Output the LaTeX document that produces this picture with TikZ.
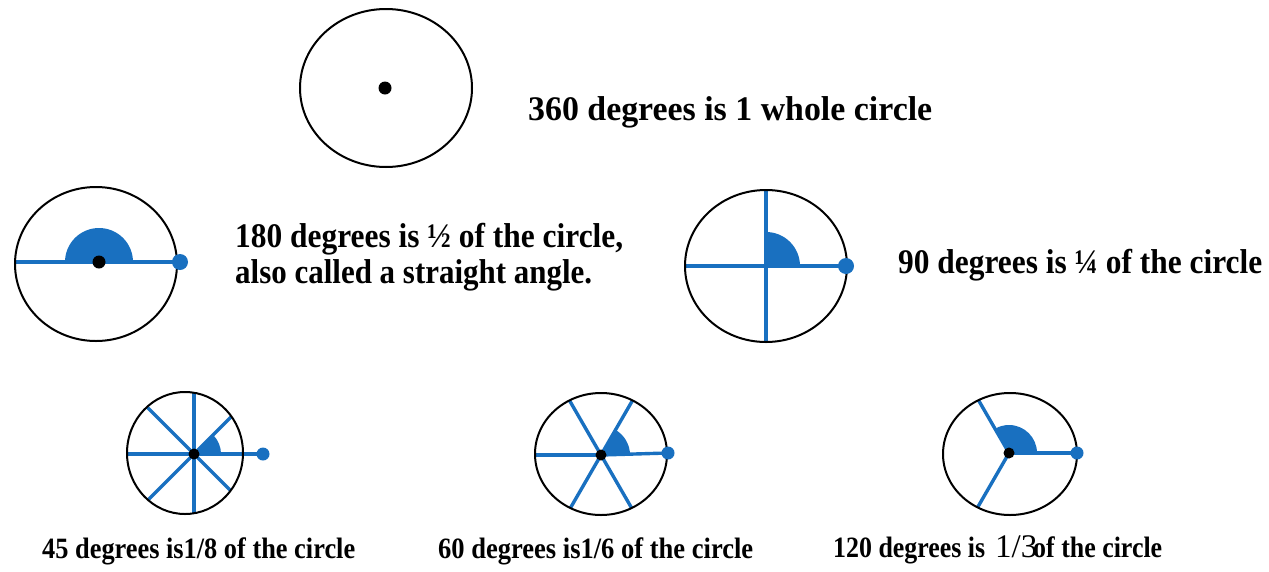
\documentclass[tikz,border=0pt]{standalone}
\usepackage{fontspec}
\usepackage{graphicx}
\setmainfont{Liberation Serif}
\newcommand{\fitto}[2]{\resizebox{#1}{\height}{#2}}
\definecolor{ablue}{RGB}{25,112,192}
\tikzset{
  rim/.style={draw=black, line width=2pt},
  spoke/.style={draw=ablue, line width=3.4pt},
  wedge/.style={fill=ablue},
  hubdot/.style={fill=black},
  enddot/.style={fill=ablue},
  lab/.style={anchor=base west, inner sep=0pt, font=\bfseries\fontsize{34.5}{40}\selectfont},
  slab/.style={anchor=base west, inner sep=0pt, font=\bfseries\fontsize{29.5}{34}\selectfont},
}
\begin{document}
\begin{tikzpicture}[x=1pt,y=1pt]
\useasboundingbox (0,0) rectangle (1269,-571);
% 360
\draw[rim] (386,-88) ellipse [x radius=86, y radius=79];
\fill[hubdot] (385,-88) circle (6.5);
\node[lab] (t360) at (528,-120) {\fitto{404pt}{360 degrees is 1 whole circle}};
% 180
\coordinate (h180) at (99,-262);
\fill[wedge] (h180) -- ++(0:34) arc[start angle=0,end angle=180,radius=34] -- cycle;
\draw[spoke] (15,-262) -- (180,-262);
\draw[rim] (96,-264) ellipse [x radius=81, y radius=77];
\fill[hubdot] (h180) circle (6.5);
\fill[enddot] (180,-262) circle (8);
\node[lab] (t180a) at (235,-247) {\fitto{388pt}{180 degrees is ½ of the circle,}};
\node[lab] (t180b) at (235,-283) {\fitto{357pt}{also called a straight angle.}};
% 90
\coordinate (h90) at (766,-266);
\fill[wedge] (h90) -- ++(0:34) arc[start angle=0,end angle=90,radius=34] -- cycle;
\draw[spoke] (685,-266) -- (846,-266);
\draw[spoke] (766,-190) -- (766,-342);
\draw[rim] (766,-266) ellipse [x radius=81, y radius=76];
\fill[enddot] (846,-266) circle (8);
\node[lab] (t90) at (898,-273) {\fitto{364pt}{90 degrees is ¼ of the circle}};
% 45
\coordinate (h45) at (194,-454);
\begin{scope}
\clip (185,-453) ellipse [x radius=58, y radius=61];
\foreach \a in {45,90,...,315} \draw[spoke] (h45) -- ++(\a:100);
\end{scope}
\fill[wedge] (h45) -- ++(0:27) arc[start angle=0,end angle=45,radius=27] -- cycle;
\draw[spoke] (h45) -- (263,-454);
\draw[rim] (185,-453) ellipse [x radius=58, y radius=61];
\fill[hubdot] (h45) circle (5.5);
\fill[enddot] (263,-454) circle (6.5);
\node[slab] (t45) at (42,-558) {\fitto{313pt}{45 degrees is1/8 of the circle}};
% 60
\coordinate (h60) at (601,-455);
\begin{scope}
\clip (601,-454) ellipse [x radius=66, y radius=61];
\foreach \a in {60,120,...,300} \draw[spoke] (h60) -- ++(\a:100);
\end{scope}
\fill[wedge] (h60) -- ++(0:29) arc[start angle=0,end angle=60,radius=29] -- cycle;
\draw[spoke] (h60) -- (668,-453);
\draw[rim] (601,-454) ellipse [x radius=66, y radius=61];
\fill[hubdot] (h60) circle (5.5);
\fill[enddot] (668,-453) circle (6.5);
\node[slab] (t60) at (438,-558) {\fitto{315pt}{60 degrees is1/6 of the circle}};
% 120
\coordinate (h120) at (1009,-453);
\begin{scope}
\clip (1010,-454) ellipse [x radius=67, y radius=61];
\foreach \a in {120,240} \draw[spoke] (h120) -- ++(\a:100);
\end{scope}
\fill[wedge] (h120) -- ++(0:28) arc[start angle=0,end angle=120,radius=28] -- cycle;
\draw[spoke] (h120) -- (1077,-453);
\draw[rim] (1010,-454) ellipse [x radius=67, y radius=61];
\fill[hubdot] (h120) circle (5.5);
\fill[enddot] (1077,-453) circle (6.5);
\node[slab] (t120a) at (833,-557) {\fitto{152pt}{120 degrees is}};
\node[anchor=base west, inner sep=0pt, font=\fontsize{33}{38}\selectfont] (t120b) at (995,-557) {1/3};
\node[slab] (t120c) at (1033,-557) {\fitto{129pt}{of the circle}};
\end{tikzpicture}
\end{document}
